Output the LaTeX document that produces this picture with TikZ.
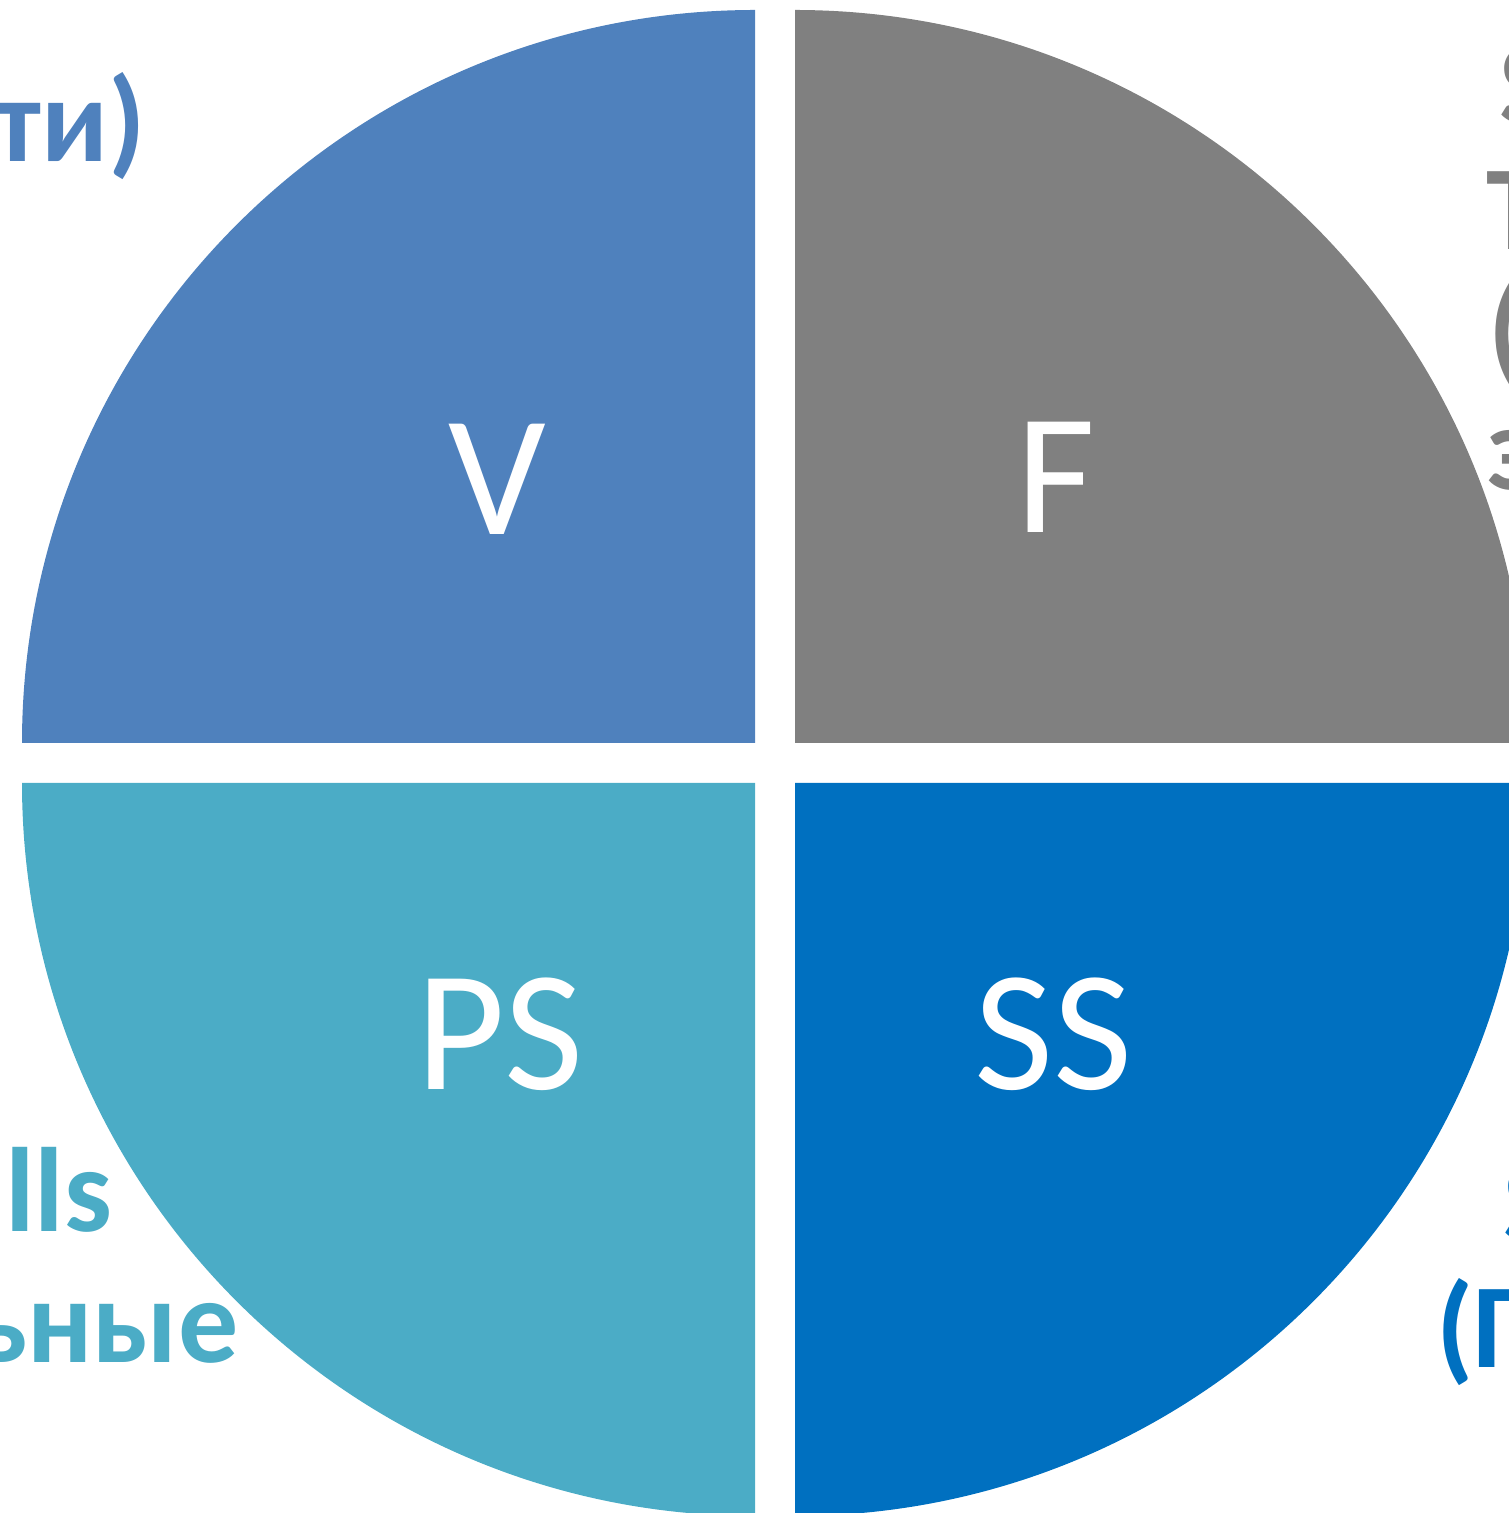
\documentclass[tikz,border=0pt]{standalone}
\usepackage{fontspec}
\setmainfont{Carlito}
\definecolor{qblue}{HTML}{4F81BD}
\definecolor{qgrey}{HTML}{808080}
\definecolor{qteal}{HTML}{4BACC6}
\definecolor{qdark}{HTML}{0070C0}
\tikzset{
  big/.style={text=white, inner sep=0pt, anchor=base, font=\fontsize{172}{200}\selectfont},
  side/.style={inner sep=0pt, font=\bfseries\fontsize{120}{144}\selectfont}
}
\begin{document}
\begin{tikzpicture}[x=1pt,y=1pt]
\useasboundingbox (0,0) rectangle (1509,1513);
\clip (0,0) rectangle (1509,1513);
% quadrants
\fill[qblue] (755,770) -- (22,770) arc[start angle=180, end angle=90, radius=733] -- cycle;
\fill[qgrey] (795,770) -- (795,1503) arc[start angle=90, end angle=0, radius=733] -- cycle;
\fill[qteal] (755,730) -- (22,730) arc[start angle=180, end angle=270, radius=733] -- cycle;
\fill[qdark] (795,730) -- (1528,730) arc[start angle=0, end angle=-90, radius=733] -- cycle;
% big letters
\node[big] (v) at (497,978) {V};
\node[big] (f) at (1056,980) {F};
\node[big] (ps) at (500,423) {PS};
\node[big] (ss) at (1054,423) {SS};
% side texts (cropped at the picture's edges)
\node[side, text=qblue, anchor=base east] (tl) at (146,1351) {ти)};
\node[side, text=qgrey, anchor=base west] (tr1) at (1499,1388) {S};
\node[side, text=qgrey, anchor=base west] (tr2) at (1486,1263) {Т};
\node[side, text=qgrey, anchor=base west] (tr3) at (1488,1143) {(};
\node[side, text=qgrey, anchor=base west] (tr4) at (1487,1023) {з};
\node[side, text=qteal, anchor=base east] (bl1) at (112,281) {ills};
\node[side, text=qteal, anchor=base east] (bl2) at (239,150) {ьные};
\node[side, text=qdark, anchor=base west] (br1) at (1503,270) {S};
\node[side, text=qdark, anchor=base west] (br2) at (1436,145) {(Г};
\end{tikzpicture}
\end{document}
